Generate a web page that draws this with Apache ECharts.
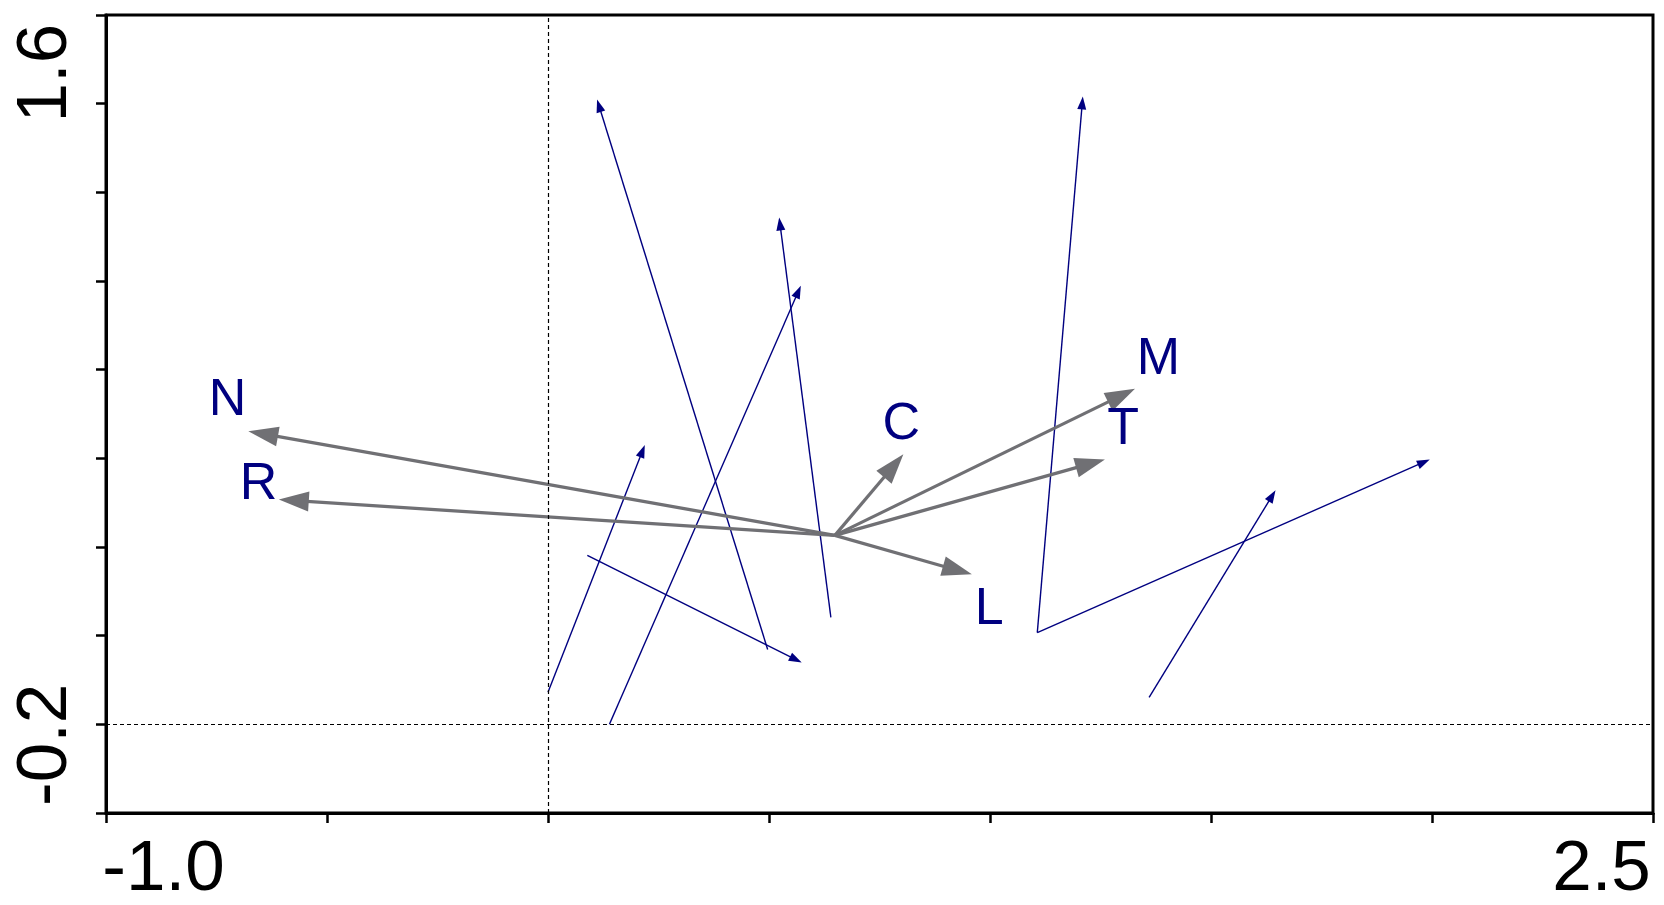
<!DOCTYPE html>
<html><head><meta charset="utf-8">
<script src="https://cdn.jsdelivr.net/npm/echarts@6/dist/echarts.min.js"></script>
<style>html,body{margin:0;padding:0;background:#fff}#c{width:1664px;height:905px}</style>
</head><body><div id="c"></div>
<script>
// ---- data ----
const envNames   = ['N', 'R', 'C', 'M', 'T', 'L'];
const envOriginX = 0.649;
const envOriginY = 0.348;
const envTipX    = [-0.678, -0.609, 0.804, 1.328, 1.260, 0.959];
const envTipY    = [ 0.650,  0.452, 0.583, 0.773, 0.568, 0.235];
const envLabelX  = [-0.725, -0.655, 0.799, 1.381, 1.301, 0.998];
const envLabelY  = [ 0.740,  0.495, 0.669, 0.858, 0.655, 0.133];

const sppStartX = [0.000, 0.139, 0.497, 0.640, 0.089, 1.107, 1.107, 1.360];
const sppStartY = [-0.107, -0.200, 0.017, 0.110, 0.290, 0.066, 0.066, -0.122];
const sppEndX   = [0.219, 0.572, 0.111, 0.523, 0.574, 1.210, 1.995, 1.646];
const sppEndY   = [0.610, 1.072, 1.612, 1.270, -0.021, 1.621, 0.568, 0.479];

const xTickLabels = [-1.0, 2.5];
const yTickLabels = [-0.2, 1.6];
const refLineX = 0;
const refLineY = -0.2;

// ---- axes ----
const xMin = -1.0, xMax = 2.5, xStep = 0.5;
const yStep = (yTickLabels[1] - yTickLabels[0]) / 7;
const yTicks = [];
for (let k = -1; k <= 8; k++) yTicks.push(yTickLabels[0] + k * yStep);
const yMin = yTicks[0], yMax = yTicks[yTicks.length - 1];

const FONT = '"Liberation Sans", Arial, sans-serif';
const NAVY = '#000080';
const GRAY = '#707074';

function arrowRenderer(color, width, headW, headL) {
  return function (params, api) {
    const p1 = api.coord([api.value(0), api.value(1)]);
    const p2 = api.coord([api.value(2), api.value(3)]);
    const dx = p2[0] - p1[0], dy = p2[1] - p1[1];
    const len = Math.sqrt(dx * dx + dy * dy) || 1;
    const ux = dx / len, uy = dy / len;
    const bx = p2[0] - ux * headL, by = p2[1] - uy * headL;
    const nx = -uy, ny = ux;
    return {
      type: 'group',
      children: [
        { type: 'line', shape: { x1: p1[0], y1: p1[1], x2: bx + ux * 2, y2: by + uy * 2 },
          style: { stroke: color, lineWidth: width } },
        { type: 'polygon', shape: { points: [
            [p2[0], p2[1]],
            [bx + nx * headW / 2, by + ny * headW / 2],
            [bx - nx * headW / 2, by - ny * headW / 2]] },
          style: { fill: color } }
      ]
    };
  };
}

const sppData = sppStartX.map((x, i) => [x, sppStartY[i], sppEndX[i], sppEndY[i]]);
const envData = envTipX.map((x, i) => [envOriginX, envOriginY, x, envTipY[i]]);
const labelData = envLabelX.map((x, i) => [x, envLabelY[i], i]);

const chart = echarts.init(document.getElementById('c'), null, { renderer: 'canvas' });
chart.setOption({
  animation: false,
  backgroundColor: '#ffffff',
  grid: { left: 106, right: 11, top: 15, bottom: 92, containLabel: false,
          outerBoundsMode: 'none',
          show: true, borderColor: '#000', borderWidth: 3, backgroundColor: 'transparent' },
  xAxis: {
    type: 'value', min: xMin, max: xMax, interval: xStep,
    axisLine: { show: true, onZero: false, lineStyle: { color: '#000', width: 3 } },
    axisTick: { show: true, inside: false, length: 10, lineStyle: { color: '#000', width: 2.5 } },
    splitLine: { show: false },
    axisLabel: {
      show: true, customValues: xTickLabels, margin: 22,
      color: '#000', fontFamily: FONT, fontSize: 71,
      formatter: v => (v < 0 ? '{lo|' : '{hi|') + v.toFixed(1) + '}',
      rich: {
        lo: { fontFamily: FONT, fontSize: 71, color: '#000', padding: [0, 0, 0, 115] },
        hi: { fontFamily: FONT, fontSize: 71, color: '#000', padding: [0, 103, 0, 0] }
      }
    }
  },
  yAxis: {
    type: 'value', min: yMin, max: yMax,
    axisLine: { show: true, onZero: false, lineStyle: { color: '#000', width: 3 } },
    axisTick: { show: true, inside: false, length: 10, customValues: yTicks,
                lineStyle: { color: '#000', width: 2.5 } },
    splitLine: { show: false },
    axisLabel: {
      show: true, customValues: yTickLabels, rotate: 90, margin: 24,
      color: '#000', fontFamily: FONT, fontSize: 71,
      formatter: v => (v < 0 ? '{lo|' : '{hi|') + v.toFixed(1) + '}',
      rich: {
        lo: { fontFamily: FONT, fontSize: 71, color: '#000', padding: [0, 41, 0, 0] },
        hi: { fontFamily: FONT, fontSize: 71, color: '#000', padding: [0, 0, 0, 61] }
      }
    }
  },
  series: [
    {
      type: 'custom', name: 'ref', z: 1, silent: true,
      data: [],
      renderItem: () => null,
      markLine: {
        silent: true, symbol: 'none', animation: false,
        label: { show: false },
        lineStyle: { color: '#000', width: 1.2, type: [4, 3] },
        emphasis: { disabled: true },
        data: [{ xAxis: refLineX }, { yAxis: refLineY }]
      }
    },
    {
      type: 'custom', name: 'species', z: 2, silent: true,
      encode: { x: [0, 2], y: [1, 3] },
      data: sppData,
      renderItem: arrowRenderer(NAVY, 1.4, 9, 13)
    },
    {
      type: 'custom', name: 'env', z: 3, silent: true,
      encode: { x: [0, 2], y: [1, 3] },
      data: envData,
      renderItem: arrowRenderer(GRAY, 3.2, 20, 30)
    },
    {
      type: 'custom', name: 'labels', z: 4, silent: true,
      encode: { x: 0, y: 1 },
      data: labelData,
      renderItem: function (params, api) {
        const p = api.coord([api.value(0), api.value(1)]);
        return {
          type: 'text', x: p[0], y: p[1],
          style: { text: envNames[api.value(2)], fill: NAVY,
                   font: '52px ' + FONT, fontSize: 52, fontFamily: FONT,
                   align: 'center', verticalAlign: 'middle',
                   textAlign: 'center', textVerticalAlign: 'middle' }
        };
      }
    }
  ]
});
</script>
</body></html>
